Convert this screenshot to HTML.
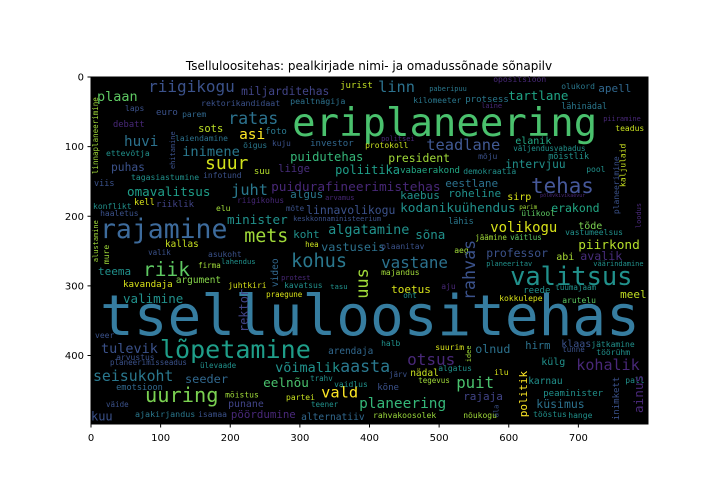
<!DOCTYPE html>
<html><head><meta charset="utf-8"><style>
html,body{margin:0;padding:0;background:#fff;}
svg{display:block;}
.w{font-family:"DejaVu Sans Mono","Liberation Mono",monospace;}
.t{font-family:"DejaVu Sans","Liberation Sans",sans-serif;fill:#000;}
</style></head><body>
<svg id="chart" width="720" height="504" viewBox="0 0 720 504" xmlns="http://www.w3.org/2000/svg">
<text class="t" x="369" y="70" font-size="12" text-anchor="middle">Tselluloositehas: pealkirjade nimi- ja omadussõnade sõnapilv</text>
<rect x="91" y="77" width="557" height="347" fill="#000"/>
<g id="words"></g>
<rect x="91" y="77" width="557" height="347" fill="none" stroke="#000" stroke-width="1"/>
<g id="axes"></g>
</svg>
<script>
const words = ["tselluloositehas","eriplaneering","rajamine","valitsus","lõpetamine","tehas","riik","kohus","mets","uuring","suur","teadlane","linn","ratas","juht","vastane","otsus","kohalik","puit","aasta","vald","planeering","asi","huvi","seisukoht","inimene","volikogu","plaan","tulevik","võimalik","algatamine","kodanikuühendus","puidurafineerimistehas","omavalitsus","minister","eelnõu","piirkond","valimine","tartlane","sõna","puidutehas","uus","poliitika","seeder","vastuseis","olnud","avalik","küsimus","erakond","linnavolikogu","president","professor","miljarditehas","puhas","intervjuu","algus","koht","teema","eestlane","kaebus","roheline","toetus","meel","rajaja","apell","kuu","pöördumine","liige","sots","hirm","elanik","sirp","abi","klaas","külg","tõde","punane","alternatiiv","nädal","karnau","video","argument","arendaja","kallas","kavandaja","riiklik","peaminister","vabaerakond","investor","euro","foto","protsess","reede","kõne","suu","jurist","debatt","kell","emotsioon","inimkett","lähinädal","mõistlik","lähis","ajakirjandus","pealtnägija","rektorikandidaat","ettevõtja","tagasiastumine","rahvakoosolek","viis","laiendamine","infotund","konflikt","haaletus","elu","asukoht","juhtkiri","kavatsus","arvustus","mõistus","partei","isamaa","vaidlus","opositsioon","olukord","kilomeeter","teadus","protokoll","mõju","demokraatia","pool","ülikool","vastumeelsus","plaanitav","aeg","majandus","aju","kokkulepe","arutelu","halb","suurim","jätkamine","töörühm","algatus","ilu","pall","nõukogu","tööstus","hange","väljendusvabadus","tunne","tegevus","järv","oht","väide","teener","trahv","ülevaade","praegune","tasu","firma","valik","hea","mõte","riigikohus","õigus","kuju","laps","parem","protest","lahendus","arvamus","keskkonnaministeerium","planeerimisseadus","paberipuu","laine","piiramine","politsei","planeeritav","väärindamine","tuumajaam","jäämine","väitlus","parim","põlevkivikaevur","veer","ehitamine","linnaplaneerimine","alustamine","mure","rektor","rahvas","politik","planeerimine","kaljulaid","loodus","idee","ala","ainus","riigikogu"];
const wordX = [12.9,288.8,12.9,602,99,632,74.7,287.4,220,77.6,163.8,481.4,412.4,196.9,201.2,416.7,454,697,524.5,357.8,330.5,385,212.7,47.4,2.9,130.8,573.4,8.6,14.4,264.4,340.6,444,258.7,51.7,195.4,247.2,699.8,46,599.2,465.6,286,398,350.6,135,330.5,551.8,702.7,639.5,661,309,426.8,567.6,215.6,28.7,595,286,290.3,10,508.7,444,513,431,760,534.6,728.6,0,201,268.7,153.8,623.7,609.3,597.8,668.2,675.4,646.6,699.8,196.9,301.8,458.4,628,268.7,122,340.6,106.3,46,93.4,649.5,444,314.7,93.4,250,537.4,620.8,411,234,357.8,31.6,61.8,36,758.7,675.4,656.7,513,63.2,286,158,21.6,57.5,405,4.3,120.7,161,2.9,13,179.6,168,196.9,277.3,36,192.6,280,153.8,349.2,577.7,675.4,462.7,753,393.7,556,534.6,711.3,618,681,416.7,521.6,416.7,503,586.3,676.8,416.7,494.3,718.5,725.7,498.6,579,767.4,534.6,635,685.5,606.4,676.8,470,428,448.4,21.6,316,314.7,156.6,251.5,343.4,153.8,82,307.5,280,209.8,218.4,260,48.9,130.8,273,186.8,336.3,290.3,27.3,485.7,560.5,735.7,416.7,567.6,721.4,666.8,551.8,602,615,645,5.7,120.7,10,10,25.9,225.6,551.8,626.4,758.7,767.4,790,546,585,793,82];
const wordY = [370.7,84.8,231.4,299,403.8,166.7,286,273,237,467,132.2,104.9,21.6,67.5,169.6,274.5,413.9,421,447,424,460,475.6,89,99,436.8,113.5,222.7,34.5,396.6,424,225.6,194,163.8,171,211.2,445.5,247.2,324.8,33,232.8,120.7,318.5,139.4,439.7,250,396.6,263,475.6,194,196.9,122,258.7,25.9,135,130.8,173.9,231.4,284.5,158,175.3,172.4,310.4,317.6,464,21.6,493,490,136.5,79,391,96.3,176.8,263,388,413.9,218.4,474.2,492.9,429.7,441,301.8,296,398,244.3,301.8,186.8,458.4,138,99,54.6,82,36,310.4,449.8,139.4,15.8,71.9,184,449.8,492.9,46,117.8,211.2,488.6,38.8,41.7,113.5,148,490,156.6,92,145,189.7,199.7,192.6,258.7,303.2,303.2,406.7,460,464,488.6,445.5,7.2,17.2,37.4,77.6,102,117.8,139.4,136.5,199.7,227,247.2,253,284.5,304.6,321.9,324.8,386.6,392.3,388,399.5,422.5,428.3,439.7,490,488.6,490,106.3,395,439.7,431,317.6,474.2,474.2,436.8,418,316,304.6,274.5,255.8,244.3,192.6,181,102,99,48.9,57.5,291.7,268.7,176.8,207,413.9,20,44.5,63.2,92,271.6,271.6,306,234.2,234.2,189.7,172.4,375,132.2,139.4,265.8,268.7,366.4,320.5,488.6,196.9,158,217,409.6,488.6,482.8,21.6];
const wordWeight = [80.5,56,38,36.5,36,30,28,26.7,26.3,29.2,25.9,22.1,22,24,22,22.8,23,21.6,22.6,23.9,22.1,20.8,20.8,20.5,21.3,19.7,20,19.4,19.4,19.4,19.4,18.4,18.4,18.1,18.1,18.2,18.4,18,18,18,17.5,24.4,17.2,17.1,17,16.8,16.7,16.5,16.5,16.4,16.4,16.4,16.2,16.2,16,15.8,15.8,15.8,15.8,15.8,15.8,15.8,15.8,15.8,15.8,17.2,15.5,15.2,15,15,14.4,14.4,14.4,14.4,14.4,14.4,14.2,13.8,13.7,13.7,13.7,13.5,13.5,13.4,13.2,13,13,13,13,13,13,13,13,13,12.8,13,12.6,12.4,12.4,13,12.2,12.2,12.2,12,12,11.8,11.6,11.6,11.6,12.2,11.5,11.5,11.5,11.5,11.5,11.5,11.5,11.5,11.5,11.5,11.5,11.5,11.5,11.5,11.5,11.5,11.5,11.5,11.5,11.5,11.5,11.5,11.5,11.5,11.5,11.5,11.5,11.5,11.5,11.5,11.5,11.5,11.5,11.5,11.5,11.5,11.5,11.5,11.5,10.8,10.8,10.8,10.8,10.8,10.8,10.8,10.8,10.8,10.8,10.5,10.8,10.8,10.8,10.8,11.2,11.5,11.2,11.5,11.5,10,10.3,10,10,10.8,10,10,10,10,10,10,10.8,10.8,10.8,8.6,7.2,11.5,10,10.8,10,11.5,17.2,24,15.8,11.5,11.5,10,10,10,18.3];
const wordColor = ["#367da0","#4ac16d","#3d6b9c","#21918c","#1f9e89","#46589a","#5ec962","#2a788e","#a0da39","#7ad151","#d2e21b","#415a94","#2c728e","#2c728e","#2a788e","#2c728e","#482878","#482878","#4ac16d","#2a788e","#fde725","#35b779","#fde725","#2c728e","#2a788e","#2a788e","#d8e219","#5ec962","#3b528b","#21918c","#21918c","#21918c","#482878","#1f9e89","#21918c","#4ac16d","#b5de2b","#21918c","#20a486","#21918c","#35b779","#a0da39","#1f9e89","#31688e","#2c728e","#2c728e","#472d7b","#2c728e","#22a884","#3b528b","#a0da39","#3b528b","#414487","#3b528b","#21918c","#2a788e","#21918c","#21918c","#2c728e","#21918c","#21918c","#d8e219","#c2df23","#414487","#31688e","#3b528b","#482878","#472d7b","#bddf26","#2c728e","#22a884","#d8e219","#a8db34","#3b528b","#21918c","#7ad151","#414487","#31688e","#c8e020","#21918c","#31688e","#86d549","#31688e","#c8e020","#d8e219","#414487","#21918c","#22a884","#31688e","#3b528b","#2a788e","#2a788e","#21918c","#3b528b","#b5de2b","#c2df23","#482878","#d8e219","#31688e","#3b528b","#2a788e","#21918c","#2a788e","#2a788e","#2c728e","#3b528b","#21918c","#21918c","#9bd93c","#3b528b","#2c728e","#3b528b","#21918c","#3b528b","#a0da39","#3b528b","#d8e219","#21918c","#3b528b","#a0da39","#c8e020","#3b528b","#21918c","#482878","#2a788e","#2a788e","#c8e020","#c8e020","#3b528b","#21918c","#21918c","#5ec962","#21918c","#3b528b","#a0da39","#a0da39","#482878","#d8e219","#5ec962","#21918c","#d8e219","#21918c","#21918c","#21918c","#d8e219","#21918c","#a0da39","#21918c","#21918c","#21918c","#3b528b","#a0da39","#3b528b","#21918c","#3b528b","#21918c","#21918c","#21918c","#d8e219","#21918c","#a0da39","#3b528b","#c8e020","#3b528b","#482878","#2a788e","#3b528b","#3b528b","#31688e","#482878","#21918c","#482878","#3b528b","#3b528b","#2a788e","#482878","#482878","#482878","#21918c","#21918c","#21918c","#a0da39","#5ec962","#a0da39","#482878","#3b528b","#3b528b","#a0da39","#a0da39","#a0da39","#414487","#3b528b","#fde725","#3b528b","#c8e020","#482878","#a0da39","#3b528b","#482878","#3b528b"];
const wordVertical = [0,0,0,0,0,0,0,0,0,0,0,0,0,0,0,0,0,0,0,0,0,0,0,0,0,0,0,0,0,0,0,0,0,0,0,0,0,0,0,0,0,1,0,0,0,0,0,0,0,0,0,0,0,0,0,0,0,0,0,0,0,0,0,0,0,0,0,0,0,0,0,0,0,0,0,0,0,0,0,0,1,0,0,0,0,0,0,0,0,0,0,0,0,0,0,0,0,0,0,1,0,0,0,0,0,0,0,0,0,0,0,0,0,0,0,0,0,0,0,0,0,0,0,0,0,0,0,0,0,0,0,0,0,0,0,0,0,0,0,0,0,0,0,0,0,0,0,0,0,0,0,0,0,0,0,0,0,0,0,0,0,0,0,0,0,0,0,0,0,0,0,0,0,0,0,0,0,0,0,0,0,0,0,0,0,0,1,1,1,1,1,1,1,1,1,1,1,1,1,0];
const xTicks = [0,100,200,300,400,500,600,700];
const yTicks = [0,100,200,300,400];
const imgW = 800, imgH = 498;

const X0 = 91, Y0 = 77, K = 557 / imgW;
function sx(v){ return X0 + v * K; }
function sy(v){ return Y0 + v * K; }
function ss(v){ return v * K; }

const NS = "http://www.w3.org/2000/svg";
const wg = document.getElementById('words');
for (let i = 0; i < words.length; i++) {
  const t = document.createElementNS(NS, 'text');
  t.setAttribute('class', 'w');
  const x = sx(wordX[i]), y = sy(wordY[i]);
  t.setAttribute('x', x.toFixed(1));
  t.setAttribute('y', y.toFixed(1));
  t.setAttribute('font-size', ss(wordWeight[i]).toFixed(2));
  t.setAttribute('fill', wordColor[i]);
  if (wordVertical[i]) t.setAttribute('transform', 'rotate(-90 ' + x.toFixed(1) + ' ' + y.toFixed(1) + ')');
  t.textContent = words[i];
  
  
  wg.appendChild(t);
}
const ag = document.getElementById('axes');
xTicks.forEach(function(v){
  const x = sx(v);
  const l = document.createElementNS(NS, 'line');
  l.setAttribute('x1', x); l.setAttribute('x2', x);
  l.setAttribute('y1', 424); l.setAttribute('y2', 427.5);
  l.setAttribute('stroke', '#000');
  
  
  ag.appendChild(l);
  const t = document.createElementNS(NS, 'text');
  t.setAttribute('class', 't');
  t.setAttribute('x', x); t.setAttribute('y', 441);
  t.setAttribute('font-size', '10');
  t.setAttribute('text-anchor', 'middle');
  t.textContent = v;
  
  
  ag.appendChild(t);
});
yTicks.forEach(function(v){
  const y = sy(v);
  const l = document.createElementNS(NS, 'line');
  l.setAttribute('x1', 87.5); l.setAttribute('x2', 91);
  l.setAttribute('y1', y); l.setAttribute('y2', y);
  l.setAttribute('stroke', '#000');
  
  
  ag.appendChild(l);
  const t = document.createElementNS(NS, 'text');
  t.setAttribute('class', 't');
  t.setAttribute('x', 84); t.setAttribute('y', y + 3.5);
  t.setAttribute('font-size', '10');
  t.setAttribute('text-anchor', 'end');
  t.textContent = v;
  
  
  ag.appendChild(t);
});
</script>
</body></html>
